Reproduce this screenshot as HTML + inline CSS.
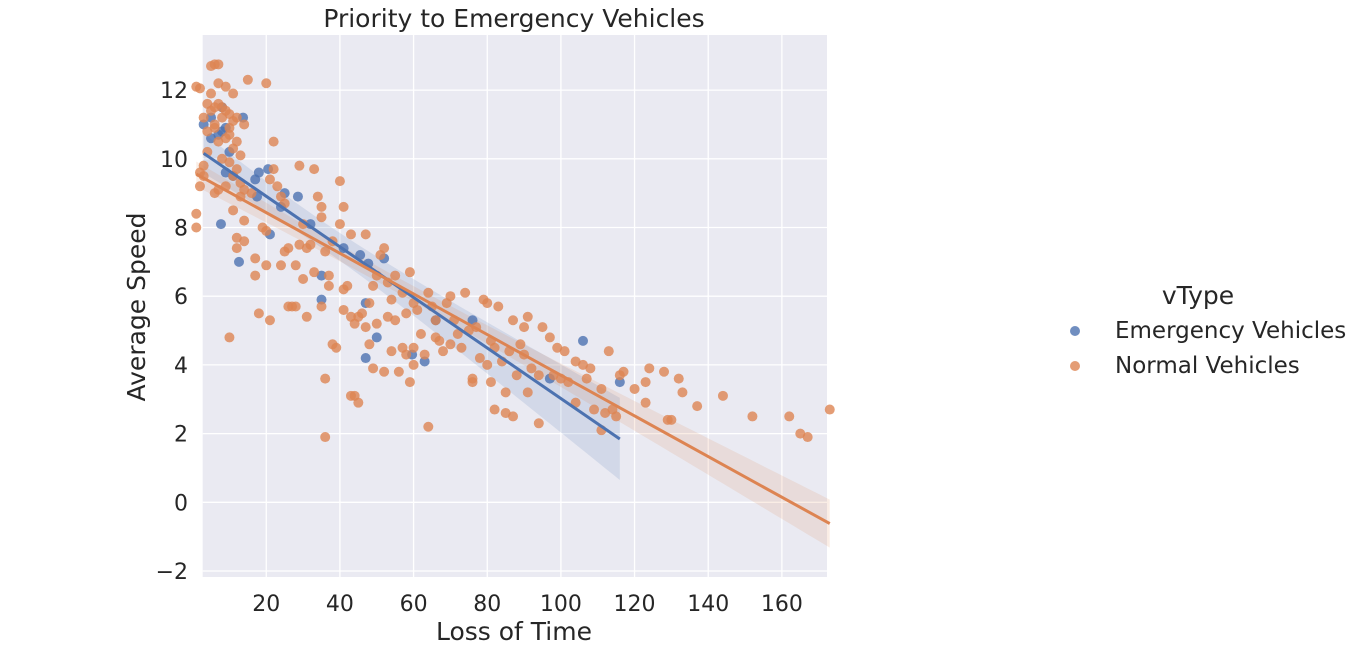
<!DOCTYPE html>
<html><head><meta charset="utf-8"><style>
body{margin:0;background:#fff;}
svg text{font-family:"DejaVu Sans","Liberation Sans",sans-serif;fill:#262626;}
</style></head><body>
<svg id="chart" width="1366" height="662" xmlns="http://www.w3.org/2000/svg"></svg>
<script>
const xTicks=[20,40,60,80,100,120,140,160];
const yTicks=[-2,0,2,4,6,8,10,12];
const emergencyX=[3,5,5,8,8,9,9,10,11,12.6,13.7,7.7,7,17,17.5,18,20.5,21,24,25,28.6,32,35,35,41,45.5,47.7,47,47,50,52,59.6,63,66,76,97,106,116];
const emergencyY=[11.0,11.2,10.6,10.8,11.5,10.9,9.6,10.2,9.5,7.0,11.2,8.1,10.7,9.4,8.9,9.6,9.7,7.8,8.6,9.0,8.9,8.1,6.6,5.9,7.4,7.2,6.95,5.8,4.2,4.8,7.1,4.3,4.1,5.3,5.3,3.6,4.7,3.5];
const normalX=[1,2,1,1,2,2,3,3,4,4,5,6,7,5,6,7,6,8,7,9,11,10,9,10,11,12,8,9,6,7,10,11,12,13,14,13,14,13,11,12,12,14,15,14,16,17,17,18,19,20,20,21,20,22,21,22,23,24,25,25,26,24,27,28,29,29,30,30,31,31,32,33,33,34,35,35,36,35,37,37,38,38,39,36,36,40,40,41,41,41,42,43,43,43,44,45,44,46,47,47,48,48,49,49,50,50,51,52,52,53,53,54,54,55,55,56,57,57,58,58,59,59,60,60,61,62,63,64,64,65,66,67,68,69,70,70,71,72,73,74,75,76,77,78,79,80,80,81,82,82,83,84,85,85,86,87,87,88,89,90,90,91,91,92,94,94,95,97,98,99,100,101,102,104,104,106,107,108,109,111,111,112,113,114,115,116,117,120,123,123,124,128,129,130,132,133,137,144,152,162,165,167,173,10,26,28,45,60,66,76,81,3,4,5,6,8,9,10,11,7,12];
const normalY=[12.1,12.05,8.4,8.0,9.6,9.2,9.8,9.5,10.2,11.6,12.7,12.75,12.75,11.4,11.5,11.6,10.9,11.2,12.2,12.1,11.9,11.3,10.6,10.9,11.1,10.5,10.0,9.2,9.0,9.1,9.9,9.5,9.7,10.1,11.0,9.3,9.1,8.9,8.5,7.7,7.4,7.6,12.3,8.2,9.0,7.1,6.6,5.5,8.0,7.9,6.9,5.3,12.2,10.5,9.4,9.7,9.2,8.9,8.7,7.3,7.4,6.9,5.7,6.9,7.5,9.8,8.1,6.5,5.4,7.4,7.5,6.7,9.7,8.9,8.6,8.3,7.3,5.7,6.6,6.3,7.6,4.6,4.5,3.6,1.9,9.35,8.1,8.6,6.2,5.6,6.3,7.8,5.4,3.1,3.1,2.9,5.2,5.5,7.8,5.1,5.8,4.6,6.3,3.9,6.6,5.2,7.2,7.4,3.8,6.4,5.4,5.9,4.4,6.6,5.3,3.8,6.1,4.5,5.5,4.3,6.7,3.5,5.8,4.0,5.6,4.9,4.3,6.1,2.2,5.7,5.3,4.7,4.4,5.8,6.0,4.6,5.3,4.9,4.5,6.1,5.0,3.6,5.1,4.2,5.9,5.8,4.0,4.7,2.7,4.5,5.7,4.1,2.6,3.2,4.4,5.3,2.5,3.7,4.6,5.1,4.3,5.4,3.2,3.9,3.7,2.3,5.1,4.8,3.7,4.5,3.6,4.4,3.5,4.1,2.9,4.0,3.6,3.9,2.7,2.1,3.3,2.6,4.4,2.7,2.5,3.7,3.8,3.3,3.5,2.9,3.9,3.8,2.4,2.4,3.6,3.2,2.8,3.1,2.5,2.5,2.0,1.9,2.7,4.8,5.7,5.7,5.4,4.5,4.8,3.5,3.5,11.2,10.8,11.9,11.0,11.5,11.4,10.7,10.3,10.5,11.2];

const L=202.7,R=827,T=35,B=577;
const sx=v=>192.6+v*3.683;
const sy=v=>502.3-v*34.35;
const NS='http://www.w3.org/2000/svg';
const svg=document.getElementById('chart');
function mk(tag,attrs,parent){const e=document.createElementNS(NS,tag);for(const k in attrs)e.setAttribute(k,attrs[k]);(parent||svg).appendChild(e);return e;}

const bg=mk('rect',{x:L,y:T,width:R-L,height:B-T,fill:'#eaeaf2'});


xTicks.forEach(t=>{
  const g=mk('line',{x1:sx(t),x2:sx(t),y1:T,y2:B,stroke:'#fff','stroke-width':1.3});
  
  
  const tx=mk('text',{x:sx(t),y:611,'text-anchor':'middle','font-size':22});tx.textContent=t;
  
  
});
yTicks.forEach(t=>{
  const g=mk('line',{x1:L,x2:R,y1:sy(t),y2:sy(t),stroke:'#fff','stroke-width':1.3});
  
  
  const tx=mk('text',{x:188,y:sy(t)+8,'text-anchor':'end','font-size':22});tx.textContent=(t<0?'\u2212'+(-t):t);
  
  
});

function fit(xs,ys,color,name){
  const n=xs.length,mx=xs.reduce((a,b)=>a+b)/n,my=ys.reduce((a,b)=>a+b)/n;
  let sxx=0,sxy=0;for(let i=0;i<n;i++){sxx+=(xs[i]-mx)**2;sxy+=(xs[i]-mx)*(ys[i]-my);}
  const b=sxy/sxx,a=my-b*mx;let sse=0;for(let i=0;i<n;i++)sse+=(ys[i]-a-b*xs[i])**2;
  const s=Math.sqrt(sse/(n-2));
  const x0=Math.min(...xs),x1=Math.max(...xs);const up=[],lo=[];
  for(let k=0;k<=60;k++){const x=x0+(x1-x0)*k/60;const se=s*Math.sqrt(1/n+(x-mx)**2/sxx);const yh=a+b*x;
    up.push(sx(x)+','+sy(yh+1.98*se));lo.unshift(sx(x)+','+sy(yh-1.98*se));}
  return {a,b,x0,x1,band:up.concat(lo).join(' '),color,name};
}
const fits=[fit(emergencyX,emergencyY,'#4c72b0','emergency'),fit(normalX,normalY,'#dd8452','normal')];
fits.forEach(f=>{
  const p=mk('polygon',{points:f.band,fill:f.color,'fill-opacity':0.15,stroke:'none'});
  
  
});
function pts(xs,ys,color,name){xs.forEach((x,i)=>{
  const c=mk('circle',{cx:sx(x),cy:sy(ys[i]),r:5,fill:color,'fill-opacity':0.8});
  
  
});}
pts(emergencyX,emergencyY,'#4c72b0','emergency');
pts(normalX,normalY,'#dd8452','normal');
fits.forEach(f=>{
  const l=mk('line',{x1:sx(f.x0),y1:sy(f.a+f.b*f.x0),x2:sx(f.x1),y2:sy(f.a+f.b*f.x1),stroke:f.color,'stroke-width':3});
  
  
});
function txt(x,y,s,size,name,anchor,rot){const t=mk('text',{x,y,'font-size':size,'text-anchor':anchor||'middle'});if(rot)t.setAttribute('transform',rot);t.textContent=s;
  
  return t;}
txt(514,27,'Priority to Emergency Vehicles',25,'chart-title');
txt(514,640,'Loss of Time',25,'x-axis-title');
txt(145,307,'Average Speed',25,'y-axis-title','middle','rotate(-90 145 307)');
txt(1198,304,'vType',25,'legend-title');
const le=mk('circle',{cx:1075,cy:331,r:5,fill:'#4c72b0','fill-opacity':0.8});


const ln=mk('circle',{cx:1075,cy:366,r:5,fill:'#dd8452','fill-opacity':0.8});


txt(1115,338,'Emergency Vehicles',23,'legend-entry-emergency','start');
txt(1115,373,'Normal Vehicles',23,'legend-entry-normal','start');
</script>
</body></html>
